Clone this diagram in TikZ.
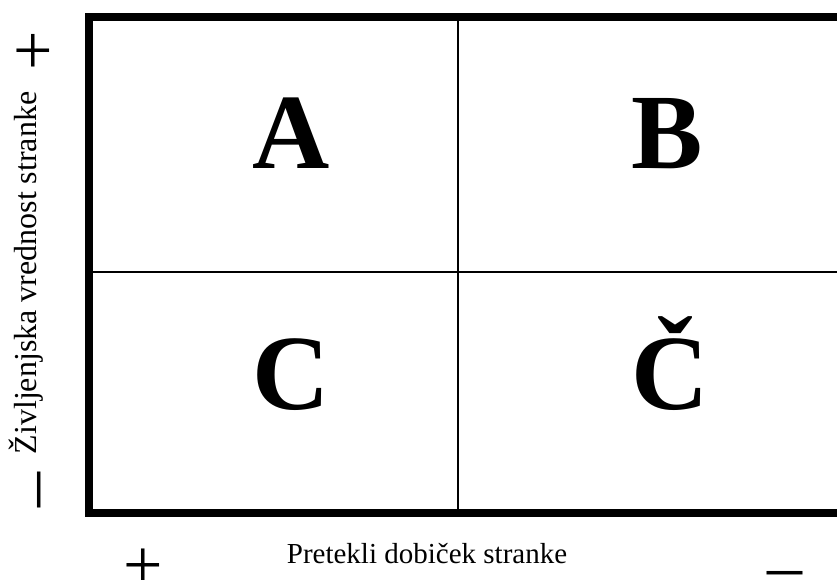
\documentclass[tikz,border=0pt]{standalone}
\usepackage{fontspec}
\setmainfont{Liberation Serif}
\begin{document}
\begin{tikzpicture}[x=1pt,y=-1pt,
  big/.style={font=\fontsize{107}{107}\selectfont\bfseries, anchor=base, inner sep=0pt},
  lbl/.style={font=\fontsize{29}{29}\selectfont, inner sep=0pt},
  sgn/.style={font=\fontsize{70}{70}\selectfont, inner sep=0pt}]
\useasboundingbox (0,0) rectangle (837,579);
\draw[line width=8pt, line join=miter] (845,17) -- (89,17) -- (89,513) -- (845,513);
\coordinate (vt) at (458,17);
\coordinate (vb) at (458,513);
\coordinate (hl) at (89,272);
\coordinate (hr) at (845,272);
\draw[line width=2pt] (vt) -- (vb);
\draw[line width=2pt] (hl) -- (hr);
\node[big] (A) at (291,168) {A};
\node[big] (B) at (667,168) {B};
\node[big] (C) at (291,409) {C};
\node[big] (Cc) at (670,409) {Č};
\node[lbl, anchor=base] (xlab) at (427,563) {Pretekli dobiček stranke};
\node[lbl, anchor=base, rotate=90, font=\fontsize{32}{32}\selectfont] (ylab) at (36,273) {Življenjska vrednost stranke};
\node[sgn] (xp) at (143,569) {+};
\node[sgn] (xm) at (785,580) {–};
\node[sgn, rotate=90] (yp) at (37,51) {+};
\node[sgn, rotate=90] (ym) at (46,490) {–};
\end{tikzpicture}
\end{document}
